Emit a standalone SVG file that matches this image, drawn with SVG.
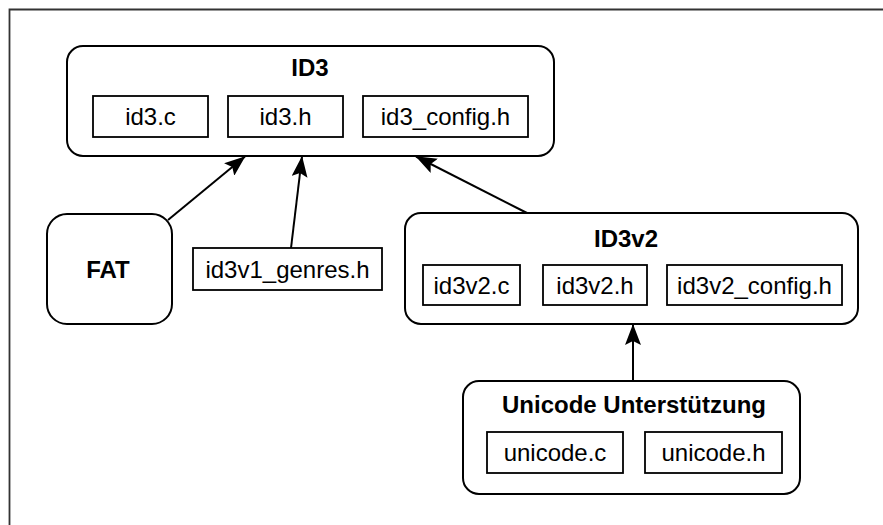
<svg xmlns="http://www.w3.org/2000/svg" width="883" height="525" viewBox="0 0 883 525">
  <style>
    .grp { fill: #ffffff; stroke: #000000; stroke-width: 2; }
    .file { fill: #ffffff; stroke: #000000; stroke-width: 1.8; }
    .title { font-family: "Liberation Sans", Arial, sans-serif; font-size: 24px; font-weight: bold; fill: #000000; text-anchor: middle; }
    .label { font-family: "Liberation Sans", Arial, sans-serif; font-size: 24px; fill: #000000; text-anchor: middle; }
    .edge { fill: none; stroke: #000000; stroke-width: 2; marker-end: url(#head); }
  </style>
  <defs>
    <marker id="head" viewBox="0 0 21 16" refX="20.5" refY="8" markerWidth="21" markerHeight="16" markerUnits="userSpaceOnUse" orient="auto">
      <path d="M0,0 L21,8 L0,16 L4,8 Z" fill="#000000"/>
    </marker>
  </defs>

  <rect width="883" height="525" fill="#ffffff"/>
  <!-- page frame -->
  <path d="M9.5,525 V9.5 H883" fill="none" stroke="#333333" stroke-width="1.8"/>

  <g id="connectors">
    <line class="edge" x1="168" y1="220" x2="245" y2="156.5"/>
    <line class="edge" x1="291" y1="248" x2="302" y2="156.5"/>
    <line class="edge" x1="527" y1="213" x2="416" y2="156.5"/>
    <line class="edge" x1="633" y1="381" x2="633" y2="324.5"/>
  </g>

  <g id="id3">
    <rect class="grp" x="67" y="46" width="487" height="110" rx="16"/>
    <text class="title" x="310" y="76">ID3</text>
    <rect class="file" x="93" y="96" width="115" height="41"/>
    <text class="label" x="150.5" y="125">id3.c</text>
    <rect class="file" x="228" y="96" width="115" height="41"/>
    <text class="label" x="285.5" y="125">id3.h</text>
    <rect class="file" x="363" y="96" width="165" height="41"/>
    <text class="label" x="445.5" y="125">id3_config.h</text>
  </g>

  <g id="fat">
    <rect class="grp" x="47" y="214" width="125" height="110" rx="20"/>
    <text class="title" x="108" y="278">FAT</text>
  </g>

  <g id="id3v1-genres">
    <rect class="file" x="193" y="248" width="189" height="42"/>
    <text class="label" x="287.5" y="277.5">id3v1_genres.h</text>
  </g>

  <g id="id3v2">
    <rect class="grp" x="405" y="213" width="453" height="111" rx="16"/>
    <text class="title" x="626" y="247">ID3v2</text>
    <rect class="file" x="423" y="265" width="97" height="40"/>
    <text class="label" x="471.5" y="293.5">id3v2.c</text>
    <rect class="file" x="543" y="265" width="104" height="40"/>
    <text class="label" x="595" y="293.5">id3v2.h</text>
    <rect class="file" x="667" y="265" width="175" height="40"/>
    <text class="label" x="754.5" y="293.5">id3v2_config.h</text>
  </g>

  <g id="unicode">
    <rect class="grp" x="463" y="381" width="337" height="113" rx="16"/>
    <text class="title" x="634" y="413">Unicode Unterstützung</text>
    <rect class="file" x="487" y="432" width="136" height="41"/>
    <text class="label" x="555" y="461">unicode.c</text>
    <rect class="file" x="645" y="432" width="137" height="41"/>
    <text class="label" x="713.5" y="461">unicode.h</text>
  </g>
</svg>
